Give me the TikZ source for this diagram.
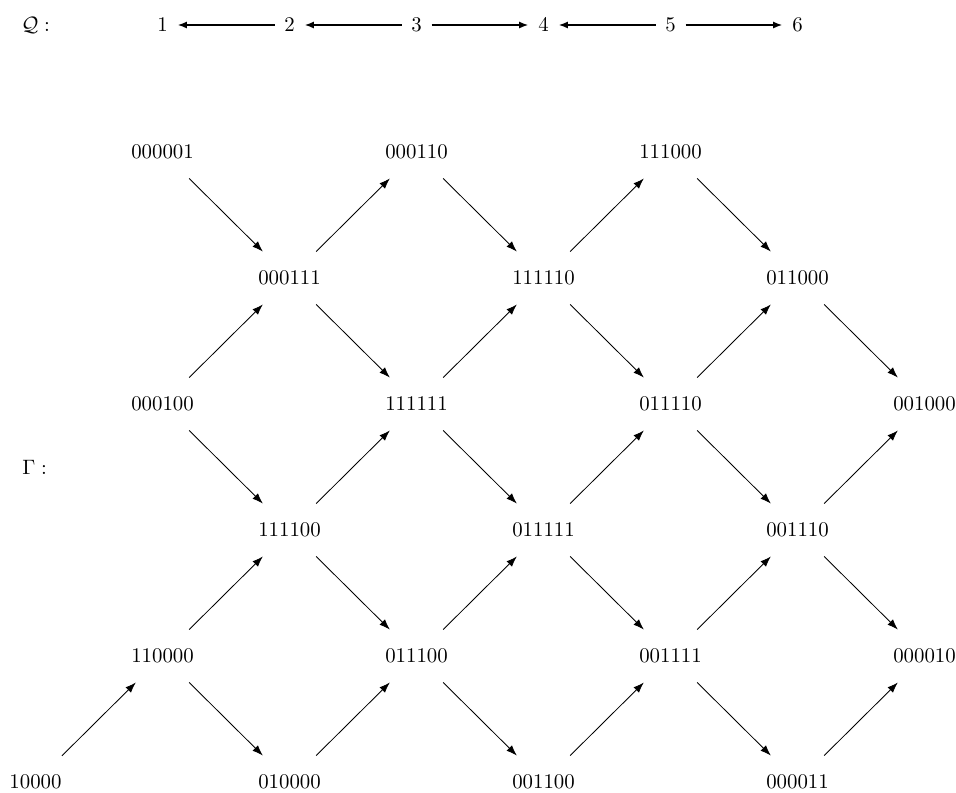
\documentclass[tikz,border=0pt]{standalone}
\usepackage{tikz}
\usetikzlibrary{positioning,arrows.meta}
\tikzset{
  vert/.style   = {inner sep=0pt, minimum width=25pt, minimum height=25pt},
  qvert/.style  = {inner sep=4.5pt},
  lbl/.style    = {anchor=west, inner sep=0pt},
  edge/.style   = {-{Latex[length=1.8mm,width=1.3mm]}, line width=0.4pt},
  qedge/.style  = {-{Latex[length=1.6mm,width=1.2mm]}, line width=0.8pt}
}
\begin{document}
\begin{tikzpicture}[x=0.48pt, y=-0.48pt]
  \useasboundingbox (0,0) rectangle (956,792);

  % The quiver Q
  \node[lbl]   (Qlbl) at (21,25)    {$\mathcal{Q}:$};
  \node[qvert] (q1)   at (162.5,25) {$1$};
  \node[qvert] (q2)   at (289.5,25) {$2$};
  \node[qvert] (q3)   at (416.5,25) {$3$};
  \node[qvert] (q4)   at (543.5,25) {$4$};
  \node[qvert] (q5)   at (670.5,25) {$5$};
  \node[qvert] (q6)   at (797.5,25) {$6$};

  \draw[qedge] (q2) -- (q1);
  \draw[qedge] (q3) -- (q2);
  \draw[qedge] (q3) -- (q4);
  \draw[qedge] (q5) -- (q4);
  \draw[qedge] (q5) -- (q6);

  % The quiver Gamma
  \node[lbl] (Glbl) at (22,467) {$\Gamma:$};

  % Row 0
  \node[vert] (v000001) at (162.5,152) {000001};
  \node[vert] (v000110) at (416.5,152) {000110};
  \node[vert] (v111000) at (670.5,152) {111000};
  % Row 1
  \node[vert] (v000111) at (289.5,278) {000111};
  \node[vert] (v111110) at (543.5,278) {111110};
  \node[vert] (v011000) at (797.5,278) {011000};
  % Row 2
  \node[vert] (v000100) at (162.5,404) {000100};
  \node[vert] (v111111) at (416.5,404) {111111};
  \node[vert] (v011110) at (670.5,404) {011110};
  \node[vert] (v001000) at (924.5,404) {001000};
  % Row 3
  \node[vert] (v111100) at (289.5,530) {111100};
  \node[vert] (v011111) at (543.5,530) {011111};
  \node[vert] (v001110) at (797.5,530) {001110};
  % Row 4
  \node[vert] (v110000) at (162.5,656) {110000};
  \node[vert] (v011100) at (416.5,656) {011100};
  \node[vert] (v001111) at (670.5,656) {001111};
  \node[vert] (v000010) at (924.5,656) {000010};
  % Row 5
  \node[vert] (v10000)  at (35.5,782)  {10000};
  \node[vert] (v010000) at (289.5,782) {010000};
  \node[vert] (v001100) at (543.5,782) {001100};
  \node[vert] (v000011) at (797.5,782) {000011};

  % Edges
  \draw[edge] (v000001) -- (v000111);
  \draw[edge] (v000111) -- (v000110);
  \draw[edge] (v000110) -- (v111110);
  \draw[edge] (v111110) -- (v111000);
  \draw[edge] (v111000) -- (v011000);

  \draw[edge] (v000100) -- (v000111);
  \draw[edge] (v000111) -- (v111111);
  \draw[edge] (v111111) -- (v111110);
  \draw[edge] (v111110) -- (v011110);
  \draw[edge] (v011110) -- (v011000);
  \draw[edge] (v011000) -- (v001000);

  \draw[edge] (v000100) -- (v111100);
  \draw[edge] (v111100) -- (v111111);
  \draw[edge] (v111111) -- (v011111);
  \draw[edge] (v011111) -- (v011110);
  \draw[edge] (v011110) -- (v001110);
  \draw[edge] (v001110) -- (v001000);

  \draw[edge] (v110000) -- (v111100);
  \draw[edge] (v111100) -- (v011100);
  \draw[edge] (v011100) -- (v011111);
  \draw[edge] (v011111) -- (v001111);
  \draw[edge] (v001111) -- (v001110);
  \draw[edge] (v001110) -- (v000010);

  \draw[edge] (v10000)  -- (v110000);
  \draw[edge] (v110000) -- (v010000);
  \draw[edge] (v010000) -- (v011100);
  \draw[edge] (v011100) -- (v001100);
  \draw[edge] (v001100) -- (v001111);
  \draw[edge] (v001111) -- (v000011);
  \draw[edge] (v000011) -- (v000010);

\end{tikzpicture}
\end{document}
